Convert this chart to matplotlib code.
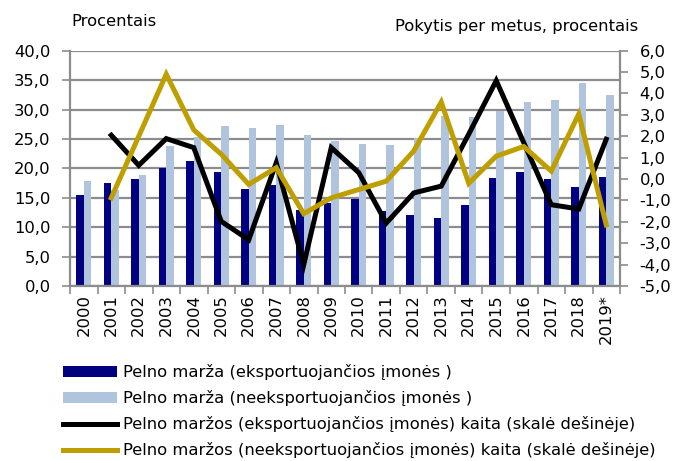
import numpy as np
import matplotlib
matplotlib.use('Agg')
import matplotlib.pyplot as plt
from matplotlib.patches import Patch
from matplotlib.lines import Line2D

plt.rcParams['font.family'] = 'DejaVu Sans'
plt.rcParams['font.size'] = 11.8

# data
years = ['2000', '2001', '2002', '2003', '2004', '2005', '2006', '2007', '2008', '2009',
         '2010', '2011', '2012', '2013', '2014', '2015', '2016', '2017', '2018', '2019*']
exp_margin = [15.5, 17.5, 18.2, 20.1, 21.3, 19.3, 16.5, 17.2, 13.0, 14.1,
              14.8, 12.7, 12.0, 11.6, 13.7, 18.3, 19.4, 18.2, 16.8, 18.5]
nonexp_margin = [17.8, 16.3, 18.9, 23.8, 25.3, 27.2, 26.9, 27.4, 25.7, 24.6,
                 24.1, 24.0, 25.2, 28.9, 28.7, 29.8, 31.2, 31.6, 34.5, 32.4]
exp_change = [np.nan, 2.05, 0.64, 1.89, 1.47, -1.98, -2.84, 0.76, -4.0, 1.47,
              0.3, -2.06, -0.65, -0.33, 2.1, 4.6, 1.7, -1.2, -1.4, 1.86]
nonexp_change = [np.nan, -0.88, 2.0, 4.9, 2.3, 1.16, -0.25, 0.53, -1.62, -0.88,
                 -0.49, -0.1, 1.31, 3.6, -0.2, 1.07, 1.52, 0.37, 3.04, -2.14]

labels = ['Pelno marža (eksportuojančios įmonės )',
          'Pelno marža (neeksportuojančios įmonės )',
          'Pelno maržos (eksportuojančios įmonės) kaita (skalė dešinėje)',
          'Pelno maržos (neeksportuojančios įmonės) kaita (skalė dešinėje)']

navy = '#000080'
light = '#b0c4de'
gold = '#bf9f00'
grid_col = '#8c8c8c'

fig = plt.figure(figsize=(6.83, 4.61), dpi=100)
ax = fig.add_axes([70/683, 1 - 286/461, 550/683, (286 - 50.7)/461])

x = np.arange(len(years))
w = 0.27
ax.bar(x - w/2, exp_margin, w, color=navy, zorder=2)
ax.bar(x + w/2, nonexp_margin, w, color=light, zorder=2)

ax.set_xlim(-0.5, len(years) - 0.5)
ax.set_ylim(0, 40)
yt = np.arange(0, 41, 5)
ax.set_yticks(yt)
ax.set_yticklabels([f'{v:.1f}'.replace('.', ',') for v in yt])
ax.yaxis.grid(True, color=grid_col, linewidth=1.6, zorder=0)
ax.set_axisbelow(True)

# x ticks: marks at category borders, labels at centres
ax.set_xticks(np.arange(-0.5, len(years), 1))
ax.set_xticklabels([])
ax.set_xticks(x, minor=True)
ax.set_xticklabels(years, minor=True, rotation=90)
ax.tick_params(axis='x', which='major', length=6, width=1.2, color=grid_col, direction='out')
ax.tick_params(axis='x', which='minor', length=0, pad=6)
ax.tick_params(axis='y', length=6, width=1.2, color=grid_col, direction='out', pad=8)

for s in ['top', 'right']:
    ax.spines[s].set_visible(False)
for s in ['left', 'bottom']:
    ax.spines[s].set_color(grid_col)
    ax.spines[s].set_linewidth(1.6)

ax2 = ax.twinx()
ax2.plot(x, exp_change, color='black', linewidth=3.6, zorder=3, solid_joinstyle='miter')
ax2.plot(x, nonexp_change, color=gold, linewidth=3.6, zorder=4, solid_joinstyle='miter')
ax2.set_ylim(-5, 6)
yt2 = np.arange(-5, 7, 1)
ax2.set_yticks(yt2)
ax2.set_yticklabels([f'{v:.1f}'.replace('.', ',') for v in yt2])
ax2.tick_params(axis='y', length=6, width=1.2, color=grid_col, direction='out', pad=8)
for s in ['top', 'left', 'bottom']:
    ax2.spines[s].set_visible(False)
ax2.spines['right'].set_color(grid_col)
ax2.spines['right'].set_linewidth(1.6)

fig.text(71/683, 1 - 22/461, 'Procentais', ha='left', va='center')
fig.text(638/683, 1 - 27/461, 'Pokytis per metus, procentais', ha='right', va='center')

handles = [Patch(facecolor=navy), Patch(facecolor=light),
           Line2D([], [], color='black', linewidth=3.6),
           Line2D([], [], color=gold, linewidth=3.6)]
fig.legend(handles, labels, loc='upper left', bbox_to_anchor=(63/683, 1 - 364/461),
           frameon=False, borderpad=0, borderaxespad=0, handlelength=3.3,
           handleheight=0.65, handletextpad=0.35, labelspacing=0.62)

fig.savefig('out.png', dpi=100)
